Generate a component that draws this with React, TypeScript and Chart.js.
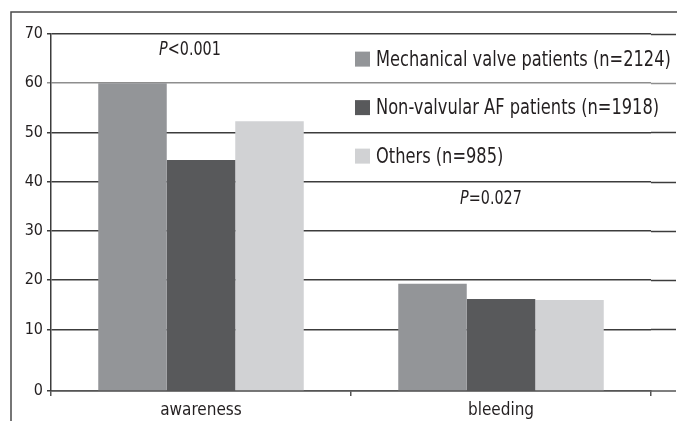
import React, { useEffect, useRef } from 'react';
import { Chart, registerables } from 'chart.js';

Chart.register(...registerables);

const categories = ['awareness', 'bleeding'];
const seriesLabels = [
  'Mechanical valve patients (n=2124)',
  'Non-valvular AF patients (n=1918)',
  'Others (n=985)',
];
const mechanical = [60.0, 19.3];
const nonValvular = [44.4, 16.2];
const others = [52.3, 16.0];
const seriesColors = ['#939598', '#58595b', '#d1d2d4'];
const yTickValues = [0, 10, 20, 30, 40, 50, 60, 70];
const axisFloor = -2.5; // the bottom "0" of the original axis sits below the linear zero
const pLabels = ['<0.001', '=0.027'];
const pValuePositions = [66.8, 36.5];

const FONT = '"Liberation Sans Narrow", "DejaVu Sans Condensed", "Arial Narrow", sans-serif';

function drawNarrow(ctx: any, text: string, x: number, y: number, sx: number) {
  ctx.save();
  ctx.translate(x, y);
  ctx.scale(sx, 1);
  ctx.fillText(text, 0, 0);
  ctx.restore();
}

const extrasPlugin = {
  id: 'extras',
  afterDraw(chart: any) {
    const { ctx, chartArea, scales } = chart;
    const y = scales.y;
    const x = scales.x;
    const extEnd = 676;
    ctx.save();
    ctx.lineWidth = 1.5;
    for (const v of yTickValues) {
      if (v === 0) continue;
      const py = Math.round(y.getPixelForValue(v)) + 0.5;
      ctx.strokeStyle = v === 60 ? '#8e8e8e' : '#3c3c3c';
      ctx.beginPath();
      ctx.moveTo(chartArea.right, py);
      ctx.lineTo(extEnd, py);
      ctx.stroke();
    }
    ctx.strokeStyle = '#555555';
    ctx.beginPath();
    ctx.moveTo(chartArea.right, chartArea.bottom);
    ctx.lineTo(extEnd, chartArea.bottom);
    ctx.stroke();

    // outer frame
    ctx.strokeStyle = '#4a4a4a';
    ctx.lineWidth = 1.5;
    ctx.strokeRect(11, 12, 700, 500);

    // legend inside plot area
    const legendX = 355;
    const legendY0 = y.getPixelForValue(64.9);
    const rowGap = y.getPixelForValue(50) - y.getPixelForValue(59.85);
    ctx.font = `21px ${FONT}`;
    ctx.textBaseline = 'middle';
    ctx.textAlign = 'left';
    chart.data.datasets.forEach((ds: any, i: number) => {
      const cy = legendY0 + i * rowGap;
      ctx.fillStyle = ds.backgroundColor;
      ctx.fillRect(legendX, cy - 7.5, 15, 15);
      ctx.fillStyle = '#231f20';
      drawNarrow(ctx, ds.label, legendX + 21, cy + 1, 0.86);
    });

    // P-value annotations
    const sx = 0.84;
    const offsets = [-11, -10];
    pLabels.forEach((t, i) => {
      const cx = x.getPixelForValue(i) + offsets[i];
      const cy = y.getPixelForValue(pValuePositions[i]);
      ctx.font = `italic 19px ${FONT}`;
      const w1 = ctx.measureText('P').width * sx;
      ctx.font = `19px ${FONT}`;
      const w2 = ctx.measureText(t).width * sx;
      const start = cx - (w1 + w2) / 2;
      ctx.fillStyle = '#231f20';
      ctx.font = `italic 19px ${FONT}`;
      drawNarrow(ctx, 'P', start, cy, sx);
      ctx.font = `19px ${FONT}`;
      drawNarrow(ctx, t, start + w1, cy, sx);
    });
    ctx.restore();
  },
};

export default function App() {
  const ref = useRef<HTMLCanvasElement | null>(null);
  useEffect(() => {
    document.body.style.margin = '0';
    const canvas = ref.current;
    if (!canvas) return;
    const chart = new Chart(canvas, {
      type: 'bar',
      data: {
        labels: categories,
        datasets: [
          { label: seriesLabels[0], data: mechanical, backgroundColor: seriesColors[0] },
          { label: seriesLabels[1], data: nonValvular, backgroundColor: seriesColors[1] },
          { label: seriesLabels[2], data: others, backgroundColor: seriesColors[2] },
        ].map((d) => ({
          ...d,
          base: axisFloor,
          borderWidth: 0,
          categoryPercentage: 0.685,
          barPercentage: 1.0,
        })),
      },
      options: {
        responsive: false,
        animation: false,
        devicePixelRatio: 1,
        layout: { padding: { top: 34, right: 26, bottom: 0, left: 0 } },
        plugins: {
          legend: { display: false },
          tooltip: { enabled: false },
        },
        scales: {
          x: {
            offset: true,
            grid: {
              offset: true,
              drawOnChartArea: false,
              drawTicks: true,
              tickLength: 5,
              color: '#555555',
              lineWidth: 1.5,
            },
            border: { display: true, color: '#555555', width: 1.5 },
            ticks: {
              color: '#231f20',
              font: { family: FONT, size: 17 },
              padding: 4,
            },
            afterFit(scale: any) {
              scale.height = 30;
            },
          },
          y: {
            min: axisFloor,
            max: 70,
            afterBuildTicks(scale: any) {
              scale.ticks = yTickValues.map((v) => ({ value: v === 0 ? axisFloor : v }));
            },
            afterFit(scale: any) {
              scale.width = 51;
            },
            grid: {
              drawTicks: true,
              tickLength: 4,
              lineWidth: 1.5,
              color: (c: any) => (c.tick && c.tick.value === 60 ? '#8e8e8e' : '#3c3c3c'),
            },
            border: { display: true, color: '#3c3c3c', width: 1.5 },
            ticks: {
              color: '#231f20',
              font: { family: FONT, size: 16 },
              padding: 4,
              callback: (value: any) => (value === axisFloor ? '0' : String(value)),
            },
          },
        },
      },
      plugins: [extrasPlugin],
    });
    return () => chart.destroy();
  }, []);
  return (
    <div style={{ width: 677, height: 421, position: 'relative', background: '#fff' }}>
      <canvas ref={ref} width={677} height={421} style={{ display: 'block' }} />
    </div>
  );
}
